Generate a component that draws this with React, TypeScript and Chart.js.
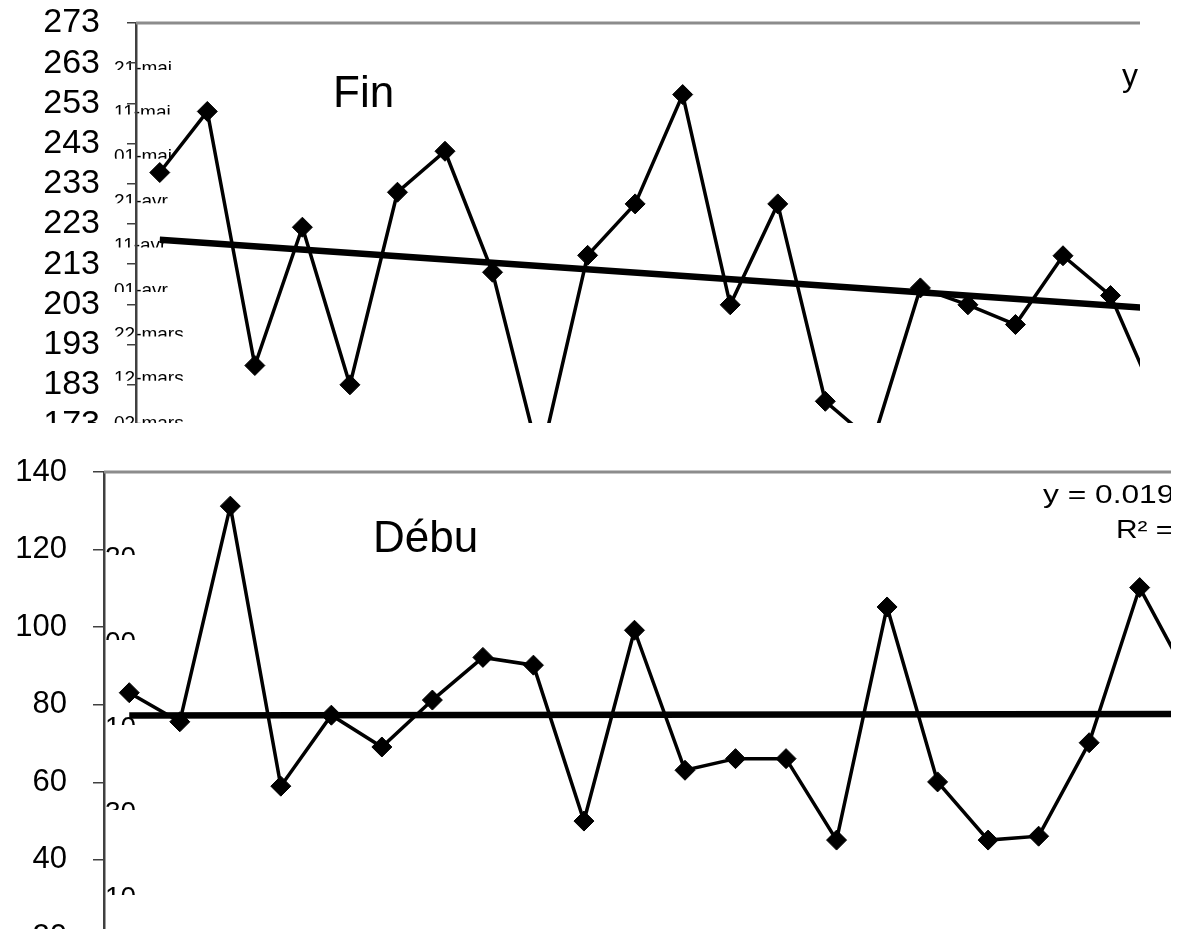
import React, { useEffect, useRef } from "react";
import { Chart, registerables } from "chart.js";

Chart.register(...registerables);

const FONT = '"Liberation Sans", Arial, sans-serif';

// ---- data ----
const pointIndex = [0, 1, 2, 3, 4, 5, 6, 7, 8, 9, 10, 11, 12, 13, 14, 15, 16, 17, 18, 19, 20, 21];

const finValues = [
  235.8, 251.0, 187.8, 222.2, 183.0, 230.9, 241.1, 211.0, 164.0, 215.2, 228.0,
  255.2, 202.9, 228.0, 178.9, 168.8, 207.1, 202.9, 198.0, 215.1, 205.2, 178.1,
];
const finTrendX = [0, 21];
const finTrendY = [219.1, 201.9];
const finTickValues = [273, 263, 253, 243, 233, 223, 213, 203, 193, 183, 173, 163, 153, 143, 133, 123];
const finDateLabels = ["21-mai", "11-mai", "01-mai", "21-avr", "11-avr", "01-avr", "22-mars", "12-mars", "02-mars"];

const debutValues = [
  83.1, 75.6, 131.2, 59.0, 77.3, 69.1, 81.2, 92.2, 90.2, 50.0, 99.2,
  63.1, 66.1, 66.1, 45.1, 105.2, 60.1, 45.1, 46.1, 70.2, 110.2, 85.9,
];
const debutTrendX = [0, 21];
const debutTrendY = [77.2, 77.6];
const debutTickValues = [140, 120, 100, 80, 60, 40, 20, 0];
const debutSideLabels = ["20", "00", "10", "30", "10"];
const debutEquation = ["y = 0.0194x + 77.196", "R² = 0.0001"];

// canvas offsets inside their panels (canvas y = panel y + offset)
const TOP_OFF = 37;
const BOT_OFF = 11;
const BOT_PANEL_Y = 423;

// ---- helpers ----
function seriesDataset(values: number[]) {
  return {
    data: values.map((v, i) => ({ x: pointIndex[i], y: v })),
    borderColor: "#000",
    borderWidth: 3.5,
    pointStyle: "rectRot",
    pointRadius: 10,
    pointBackgroundColor: "#000",
    pointBorderColor: "#000",
    pointBorderWidth: 1,
    tension: 0,
    order: 0,
  };
}

function trendDataset(xs: number[], ys: number[]) {
  return {
    data: xs.map((x, i) => ({ x, y: ys[i] })),
    borderColor: "#000",
    borderWidth: 6.5,
    pointRadius: 0,
    tension: 0,
    order: 1,
  };
}

function yAxis(ticks: number[], min: number, max: number, width: number, fontSize: number, tickLen: number, pad: number) {
  return {
    min,
    max,
    afterBuildTicks: (s: any) => {
      s.ticks = ticks.map((v) => ({ value: v }));
    },
    afterFit: (s: any) => {
      s.width = width;
    },
    ticks: {
      color: "#000",
      font: { family: FONT, size: fontSize },
      padding: pad,
      autoSkip: false,
      callback: (v: any) => String(v),
    },
    grid: {
      drawOnChartArea: false,
      drawTicks: true,
      tickLength: tickLen,
      color: "#404040",
      lineWidth: 1.5,
    },
    border: { color: "#404040", width: 2.5 },
  };
}

function stretchedText(ctx: any, text: string, x: number, y: number, sx: number) {
  ctx.save();
  ctx.translate(x, y);
  ctx.scale(sx, 1);
  ctx.fillText(text, 0, 0);
  ctx.restore();
}

const finPlugin = {
  id: "finOverlay",
  beforeDraw(chart: any) {
    const ctx = chart.ctx;
    ctx.save();
    ctx.font = `19px ${FONT}`;
    ctx.fillStyle = "#000";
    ctx.textAlign = "left";
    finDateLabels.forEach((t, i) => {
      const top = 60 + i * 44.4 + TOP_OFF;
      ctx.save();
      ctx.beginPath();
      ctx.rect(100, top - 3, 140, 13);
      ctx.clip();
      ctx.fillText(t, 114, top + 19 * 0.716);
      ctx.restore();
    });
    ctx.restore();
  },
  afterDraw(chart: any) {
    const { ctx, chartArea } = chart;
    ctx.save();
    ctx.strokeStyle = "#8c8c8c";
    ctx.lineWidth = 3;
    ctx.beginPath();
    ctx.moveTo(chartArea.left, chartArea.top);
    ctx.lineTo(chartArea.right, chartArea.top);
    ctx.stroke();
    ctx.fillStyle = "#000";
    ctx.textAlign = "left";
    ctx.font = `44px ${FONT}`;
    ctx.fillText("Fin", 333, 107 + TOP_OFF);
    ctx.font = `32px ${FONT}`;
    ctx.fillText("y", 1122, 86 + TOP_OFF);
    ctx.restore();
  },
};

const debutPlugin = {
  id: "debutOverlay",
  beforeDraw(chart: any) {
    const ctx = chart.ctx;
    const off = BOT_OFF - BOT_PANEL_Y;
    ctx.save();
    ctx.font = `28px ${FONT}`;
    ctx.fillStyle = "#000";
    ctx.textAlign = "left";
    debutSideLabels.forEach((t, i) => {
      const top = 546 + i * 85 + off;
      ctx.save();
      ctx.beginPath();
      ctx.rect(104, top - 3, 33, 12);
      ctx.clip();
      ctx.fillText(t, 105, top + 28 * 0.716);
      ctx.restore();
    });
    ctx.restore();
  },
  afterDraw(chart: any) {
    const { ctx, chartArea } = chart;
    const off = BOT_OFF - BOT_PANEL_Y;
    ctx.save();
    ctx.strokeStyle = "#8c8c8c";
    ctx.lineWidth = 3;
    ctx.beginPath();
    ctx.moveTo(chartArea.left, chartArea.top);
    ctx.lineTo(chartArea.right, chartArea.top);
    ctx.stroke();
    ctx.fillStyle = "#000";
    ctx.textAlign = "left";
    ctx.font = `44px ${FONT}`;
    ctx.fillText("Débu", 373, 552 + off);
    ctx.beginPath();
    ctx.rect(chartArea.left, 0, chartArea.right - chartArea.left, chart.height);
    ctx.clip();
    ctx.font = `26px ${FONT}`;
    stretchedText(ctx, debutEquation[0], 1043, 503 + off, 1.22);
    stretchedText(ctx, debutEquation[1], 1116, 538 + off, 1.15);
    ctx.restore();
  },
};

export default function App() {
  const topRef = useRef<HTMLCanvasElement | null>(null);
  const botRef = useRef<HTMLCanvasElement | null>(null);

  useEffect(() => {
    const top = new Chart(topRef.current as HTMLCanvasElement, {
      type: "line",
      data: {
        datasets: [seriesDataset(finValues), trendDataset(finTrendX, finTrendY)] as any,
      },
      options: {
        animation: false,
        responsive: false,
        maintainAspectRatio: false,
        layout: { padding: { top: 60, right: 42, bottom: 60, left: 0 } },
        plugins: { legend: { display: false }, tooltip: { enabled: false } },
        scales: {
          x: { type: "linear", min: -0.5, max: 20.62, display: false },
          y: yAxis(finTickValues, 123, 273, 136, 34, 9, 27) as any,
        },
      },
      plugins: [finPlugin],
    });
    const bot = new Chart(botRef.current as HTMLCanvasElement, {
      type: "line",
      data: {
        datasets: [seriesDataset(debutValues), trendDataset(debutTrendX, debutTrendY)] as any,
      },
      options: {
        animation: false,
        responsive: false,
        maintainAspectRatio: false,
        layout: { padding: { top: 60, right: 10, bottom: 60, left: 0 } },
        plugins: { legend: { display: false }, tooltip: { enabled: false } },
        scales: {
          x: { type: "linear", min: -0.5, max: 20.62, display: false },
          y: yAxis(debutTickValues, 0, 140, 104, 31, 11, 26) as any,
        },
      },
      plugins: [debutPlugin],
    });
    return () => {
      top.destroy();
      bot.destroy();
    };
  }, []);

  return (
    <div style={{ position: "fixed", left: 0, top: 0, width: 1182, height: 929, background: "#fff", overflow: "hidden" }}>
      <div style={{ position: "absolute", left: 0, top: 0, width: 1182, height: BOT_PANEL_Y, overflow: "hidden" }}>
        <canvas
          ref={topRef}
          width={1182}
          height={723}
          style={{ position: "absolute", left: 0, top: -TOP_OFF, display: "block", width: 1182, height: 723 }}
        />
      </div>
      <div style={{ position: "absolute", left: 0, top: BOT_PANEL_Y, width: 1182, height: 929 - BOT_PANEL_Y, overflow: "hidden", background: "#fff" }}>
        <canvas
          ref={botRef}
          width={1182}
          height={663}
          style={{ position: "absolute", left: 0, top: -BOT_OFF, display: "block", width: 1182, height: 663 }}
        />
      </div>
    </div>
  );
}
